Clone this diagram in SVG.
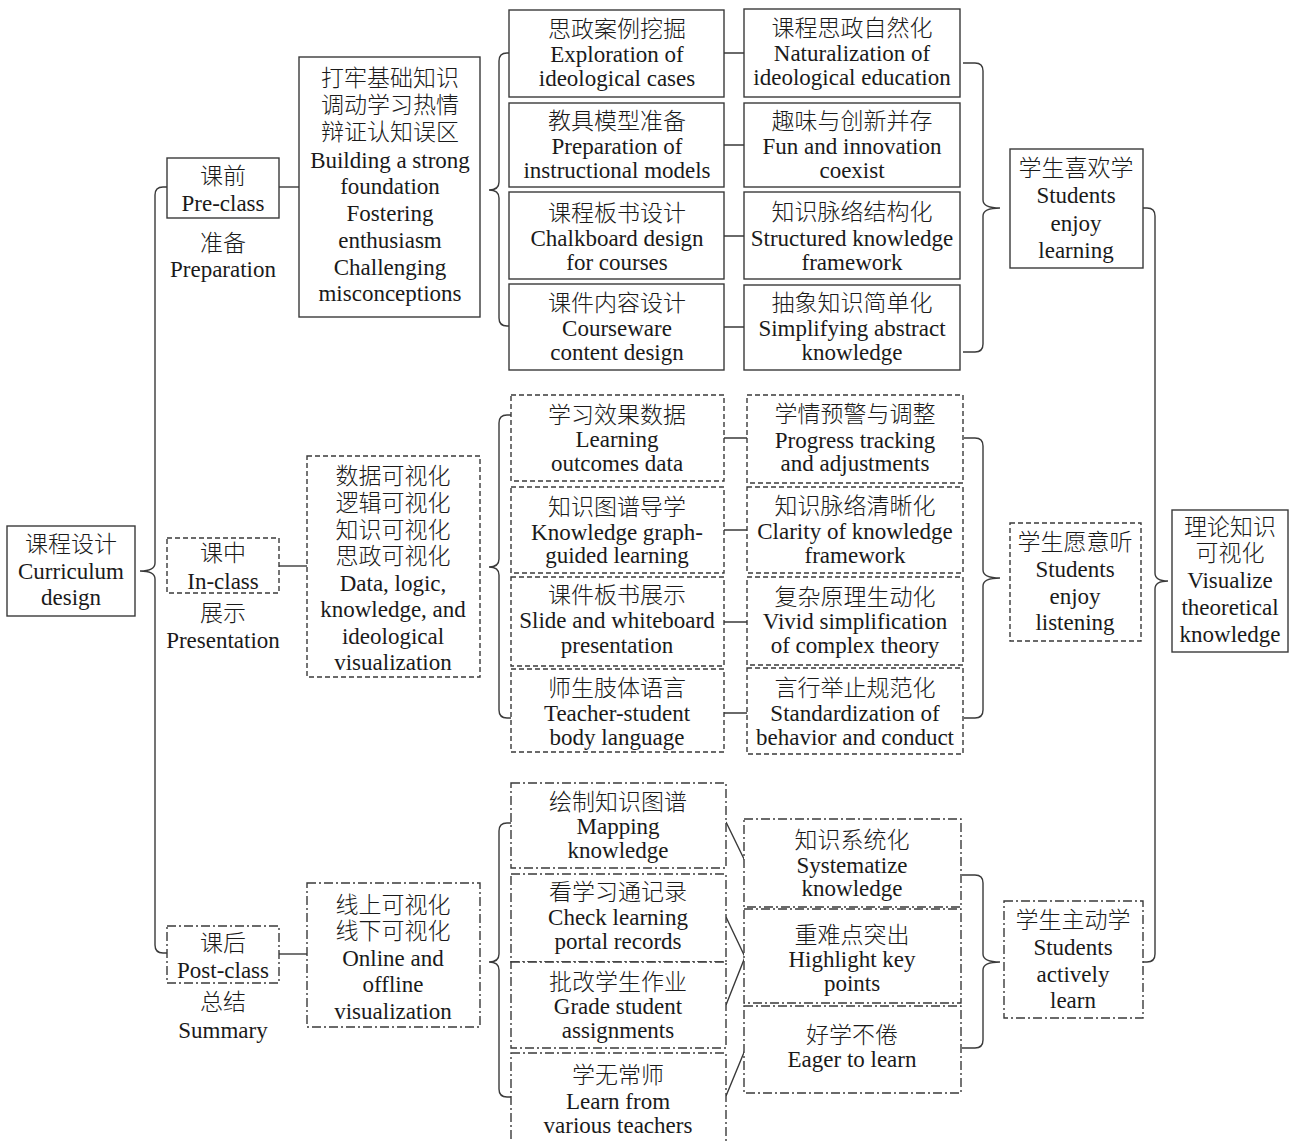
<svg xmlns="http://www.w3.org/2000/svg" width="1294" height="1141" viewBox="0 0 1294 1141">
  <style>
    rect { fill: #ffffff; stroke: #3a3a3a; stroke-width: 1.4; }
    rect.dash { stroke-dasharray: 5 3; }
    rect.dashdot { stroke-dasharray: 9 3 2 3; }
    .wire { fill: none; stroke: #3a3a3a; stroke-width: 1.4; }
    text { font-family: "Liberation Serif", "Noto Sans CJK SC", serif; font-size: 23px; fill: #1a1a1a; text-anchor: middle; }
    tspan.zh { font-family: "Noto Sans CJK SC", "Liberation Serif", sans-serif; font-size: 23px; font-weight: 300; }
  </style>

  <!-- connectors: braces and links -->
  <g id="connectors">
    <path class="wire" d="M167,187 H163 Q155,187 155,195 V563 Q155,571 140,571 Q155,571 155,579 V945 Q155,953 163,953 H167"/>
    <path class="wire" d="M279,187 H299"/>
    <path class="wire" d="M279,566 H307"/>
    <path class="wire" d="M279,954 H307"/>
    <path class="wire" d="M509,53 H507 Q499,53 499,61 V182 Q499,190 489,190 Q499,190 499,198 V318 Q499,326 507,326 H509"/>
    <path class="wire" d="M511,415 H507 Q499,415 499,423 V559 Q499,567 489,567 Q499,567 499,575 V710 Q499,718 507,718 H511"/>
    <path class="wire" d="M511,823 H507 Q499,823 499,831 V954 Q499,962 489,962 Q499,962 499,970 V1089 Q499,1097 507,1097 H511"/>
    <path class="wire" d="M724,53 H744 M724,145 H744 M724,236 H744 M724,327 H744"/>
    <path class="wire" d="M724,438 H747 M724,530 H747 M724,622 H747 M724,713 H747"/>
    <path class="wire" d="M726,822 L745,861 M726,917 L745,957 L726,1005 M745,1050 L726,1096"/>
    <path class="wire" d="M963,63 H975 Q983,63 983,71 V200 Q983,208 1000,208 Q983,208 983,216 V344 Q983,352 975,352 H963"/>
    <path class="wire" d="M964,438 H975 Q983,438 983,446 V570 Q983,578 1000,578 Q983,578 983,586 V710 Q983,718 975,718 H964"/>
    <path class="wire" d="M962,875 H975 Q983,875 983,883 V954 Q983,962 1000,962 Q983,962 983,970 V1040 Q983,1048 975,1048 H962"/>
    <path class="wire" d="M1143,208 H1147 Q1155,208 1155,216 V573 Q1155,581 1168,581 Q1155,581 1155,589 V954 Q1155,962 1147,962 H1143"/>
  </g>

  <!-- root -->
  <g id="curriculum">
    <rect x="7" y="526" width="128" height="90"/>
    <text><tspan class="zh" x="71" y="552">课程设计</tspan><tspan x="71" y="579">Curriculum</tspan><tspan x="71" y="605">design</tspan></text>
  </g>

  <!-- stages -->
  <g id="pre-class">
    <rect x="167" y="158" width="112" height="60"/>
    <text><tspan class="zh" x="223" y="184">课前</tspan><tspan x="223" y="211">Pre-class</tspan></text>
    <text><tspan class="zh" x="223" y="251">准备</tspan><tspan x="223" y="277">Preparation</tspan></text>
  </g>
  <g id="in-class">
    <rect class="dash" x="167" y="538" width="112" height="55"/>
    <text><tspan class="zh" x="223" y="561">课中</tspan><tspan x="223" y="589">In-class</tspan></text>
    <text><tspan class="zh" x="223" y="621">展示</tspan><tspan x="223" y="648">Presentation</tspan></text>
  </g>
  <g id="post-class">
    <rect class="dashdot" x="167" y="926" width="112" height="57"/>
    <text><tspan class="zh" x="223" y="951">课后</tspan><tspan x="223" y="978">Post-class</tspan></text>
    <text><tspan class="zh" x="223" y="1010">总结</tspan><tspan x="223" y="1038">Summary</tspan></text>
  </g>

  <!-- stage goals -->
  <g id="foundation">
    <rect x="299" y="57" width="181" height="260"/>
    <text><tspan class="zh" x="390" y="86">打牢基础知识</tspan><tspan class="zh" x="390" y="113">调动学习热情</tspan><tspan class="zh" x="390" y="140">辩证认知误区</tspan><tspan x="390" y="168">Building a strong</tspan><tspan x="390" y="194">foundation</tspan><tspan x="390" y="221">Fostering</tspan><tspan x="390" y="248">enthusiasm</tspan><tspan x="390" y="275">Challenging</tspan><tspan x="390" y="301">misconceptions</tspan></text>
  </g>
  <g id="visualization">
    <rect class="dash" x="307" y="456" width="173" height="221"/>
    <text><tspan class="zh" x="393" y="484">数据可视化</tspan><tspan class="zh" x="393" y="511">逻辑可视化</tspan><tspan class="zh" x="393" y="538">知识可视化</tspan><tspan class="zh" x="393" y="564">思政可视化</tspan><tspan x="393" y="591">Data, logic,</tspan><tspan x="393" y="617">knowledge, and</tspan><tspan x="393" y="644">ideological</tspan><tspan x="393" y="670">visualization</tspan></text>
  </g>
  <g id="online-offline">
    <rect class="dashdot" x="307" y="883" width="173" height="144"/>
    <text><tspan class="zh" x="393" y="913">线上可视化</tspan><tspan class="zh" x="393" y="939">线下可视化</tspan><tspan x="393" y="966">Online and</tspan><tspan x="393" y="992">offline</tspan><tspan x="393" y="1019">visualization</tspan></text>
  </g>

  <!-- pre-class actions -->
  <g id="cases">
    <rect x="509" y="10" width="215" height="87"/>
    <text><tspan class="zh" x="617" y="37">思政案例挖掘</tspan><tspan x="617" y="62">Exploration of</tspan><tspan x="617" y="86">ideological cases</tspan></text>
  </g>
  <g id="models">
    <rect x="509" y="103" width="215" height="84"/>
    <text><tspan class="zh" x="617" y="129">教具模型准备</tspan><tspan x="617" y="154">Preparation of</tspan><tspan x="617" y="178">instructional models</tspan></text>
  </g>
  <g id="chalkboard">
    <rect x="509" y="192" width="215" height="87"/>
    <text><tspan class="zh" x="617" y="221">课程板书设计</tspan><tspan x="617" y="246">Chalkboard design</tspan><tspan x="617" y="270">for courses</tspan></text>
  </g>
  <g id="courseware">
    <rect x="509" y="284" width="215" height="86"/>
    <text><tspan class="zh" x="617" y="311">课件内容设计</tspan><tspan x="617" y="336">Courseware</tspan><tspan x="617" y="360">content design</tspan></text>
  </g>

  <!-- pre-class effects -->
  <g id="naturalization">
    <rect x="744" y="9" width="216" height="88"/>
    <text><tspan class="zh" x="852" y="36">课程思政自然化</tspan><tspan x="852" y="61">Naturalization of</tspan><tspan x="852" y="85">ideological education</tspan></text>
  </g>
  <g id="fun">
    <rect x="744" y="103" width="216" height="84"/>
    <text><tspan class="zh" x="852" y="129">趣味与创新并存</tspan><tspan x="852" y="154">Fun and innovation</tspan><tspan x="852" y="178">coexist</tspan></text>
  </g>
  <g id="structured">
    <rect x="744" y="192" width="216" height="87"/>
    <text><tspan class="zh" x="852" y="220">知识脉络结构化</tspan><tspan x="852" y="246">Structured knowledge</tspan><tspan x="852" y="270">framework</tspan></text>
  </g>
  <g id="simplifying">
    <rect x="744" y="285" width="216" height="85"/>
    <text><tspan class="zh" x="852" y="311">抽象知识简单化</tspan><tspan x="852" y="336">Simplifying abstract</tspan><tspan x="852" y="360">knowledge</tspan></text>
  </g>
  <g id="enjoy-learning">
    <rect x="1010" y="149" width="133" height="119"/>
    <text><tspan class="zh" x="1076" y="176">学生喜欢学</tspan><tspan x="1076" y="203">Students</tspan><tspan x="1076" y="231">enjoy</tspan><tspan x="1076" y="258">learning</tspan></text>
  </g>

  <!-- in-class actions -->
  <g id="outcomes-data">
    <rect class="dash" x="511" y="395" width="213" height="86"/>
    <text><tspan class="zh" x="617" y="423">学习效果数据</tspan><tspan x="617" y="447">Learning</tspan><tspan x="617" y="471">outcomes data</tspan></text>
  </g>
  <g id="graph-guided">
    <rect class="dash" x="511" y="487" width="213" height="86"/>
    <text><tspan class="zh" x="617" y="515">知识图谱导学</tspan><tspan x="617" y="540">Knowledge graph-</tspan><tspan x="617" y="563">guided learning</tspan></text>
  </g>
  <g id="slides">
    <rect class="dash" x="511" y="577" width="213" height="89"/>
    <text><tspan class="zh" x="617" y="603">课件板书展示</tspan><tspan x="617" y="628">Slide and whiteboard</tspan><tspan x="617" y="653">presentation</tspan></text>
  </g>
  <g id="body-language">
    <rect class="dash" x="511" y="669" width="213" height="83"/>
    <text><tspan class="zh" x="617" y="696">师生肢体语言</tspan><tspan x="617" y="721">Teacher-student</tspan><tspan x="617" y="745">body language</tspan></text>
  </g>

  <!-- in-class effects -->
  <g id="progress">
    <rect class="dash" x="747" y="395" width="216" height="88"/>
    <text><tspan class="zh" x="855" y="422">学情预警与调整</tspan><tspan x="855" y="448">Progress tracking</tspan><tspan x="855" y="471">and adjustments</tspan></text>
  </g>
  <g id="clarity">
    <rect class="dash" x="747" y="487" width="216" height="86"/>
    <text><tspan class="zh" x="855" y="514">知识脉络清晰化</tspan><tspan x="855" y="539">Clarity of knowledge</tspan><tspan x="855" y="563">framework</tspan></text>
  </g>
  <g id="vivid">
    <rect class="dash" x="747" y="577" width="216" height="88"/>
    <text><tspan class="zh" x="855" y="605">复杂原理生动化</tspan><tspan x="855" y="629">Vivid simplification</tspan><tspan x="855" y="653">of complex theory</tspan></text>
  </g>
  <g id="conduct">
    <rect class="dash" x="747" y="668" width="216" height="86"/>
    <text><tspan class="zh" x="855" y="696">言行举止规范化</tspan><tspan x="855" y="721">Standardization of</tspan><tspan x="855" y="745">behavior and conduct</tspan></text>
  </g>
  <g id="enjoy-listening">
    <rect class="dash" x="1010" y="523" width="131" height="118"/>
    <text><tspan class="zh" x="1075" y="550">学生愿意听</tspan><tspan x="1075" y="577">Students</tspan><tspan x="1075" y="604">enjoy</tspan><tspan x="1075" y="630">listening</tspan></text>
  </g>

  <!-- outcome -->
  <g id="visualize-theory">
    <rect x="1172" y="510" width="116" height="142"/>
    <text><tspan class="zh" x="1230" y="535">理论知识</tspan><tspan class="zh" x="1230" y="561">可视化</tspan><tspan x="1230" y="588">Visualize</tspan><tspan x="1230" y="615">theoretical</tspan><tspan x="1230" y="642">knowledge</tspan></text>
  </g>

  <!-- post-class actions -->
  <g id="mapping">
    <rect class="dashdot" x="511" y="783" width="215" height="85"/>
    <text><tspan class="zh" x="618" y="810">绘制知识图谱</tspan><tspan x="618" y="834">Mapping</tspan><tspan x="618" y="858">knowledge</tspan></text>
  </g>
  <g id="portal">
    <rect class="dashdot" x="511" y="874" width="215" height="88"/>
    <text><tspan class="zh" x="618" y="900">看学习通记录</tspan><tspan x="618" y="925">Check learning</tspan><tspan x="618" y="949">portal records</tspan></text>
  </g>
  <g id="assignments">
    <rect class="dashdot" x="511" y="962" width="215" height="86"/>
    <text><tspan class="zh" x="618" y="990">批改学生作业</tspan><tspan x="618" y="1014">Grade student</tspan><tspan x="618" y="1038">assignments</tspan></text>
  </g>
  <g id="teachers">
    <rect class="dashdot" x="511" y="1053" width="215" height="100"/>
    <text><tspan class="zh" x="618" y="1083">学无常师</tspan><tspan x="618" y="1109">Learn from</tspan><tspan x="618" y="1133">various teachers</tspan></text>
  </g>

  <!-- post-class effects -->
  <g id="systematize">
    <rect class="dashdot" x="744" y="819" width="217" height="88"/>
    <text><tspan class="zh" x="852" y="848">知识系统化</tspan><tspan x="852" y="873">Systematize</tspan><tspan x="852" y="896">knowledge</tspan></text>
  </g>
  <g id="key-points">
    <rect class="dashdot" x="744" y="909" width="217" height="94"/>
    <text><tspan class="zh" x="852" y="943">重难点突出</tspan><tspan x="852" y="967">Highlight key</tspan><tspan x="852" y="991">points</tspan></text>
  </g>
  <g id="eager">
    <rect class="dashdot" x="744" y="1006" width="217" height="87"/>
    <text><tspan class="zh" x="852" y="1043">好学不倦</tspan><tspan x="852" y="1067">Eager to learn</tspan></text>
  </g>
  <g id="active-learning">
    <rect class="dashdot" x="1004" y="901" width="139" height="117"/>
    <text><tspan class="zh" x="1073" y="928">学生主动学</tspan><tspan x="1073" y="955">Students</tspan><tspan x="1073" y="982">actively</tspan><tspan x="1073" y="1008">learn</tspan></text>
  </g>
</svg>
